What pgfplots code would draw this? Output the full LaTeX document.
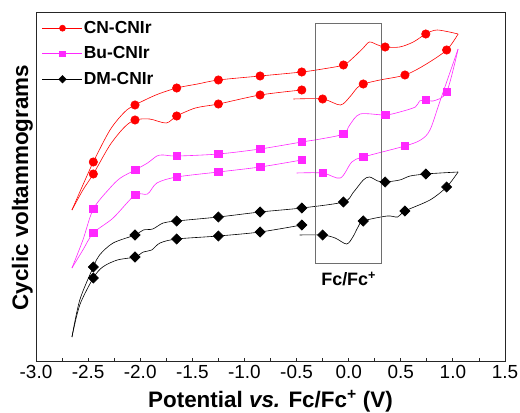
\documentclass[border=0pt]{standalone}
\usepackage{fontspec}
\setmainfont{Liberation Sans}
\usepackage{pgfplots}
\pgfplotsset{compat=1.18}

\definecolor{cnred}{RGB}{255,0,0}
\definecolor{bumag}{RGB}{255,40,255}
\definecolor{boxgray}{RGB}{110,110,110}

\begin{document}
\begin{tikzpicture}
\begin{axis}[
  at={(36bp,51bp)}, anchor=south west,
  scale only axis, width=469bp, height=349bp,
  xmin=-3, xmax=1.5, ymin=0, ymax=349,
  xtick={-3,-2.5,...,1.5}, minor x tick num=1,
  ytick=\empty, xtick pos=lower,
  tick align=inside, major tick length=4bp, minor tick length=3.5bp,
  axis line style={line width=1bp, black!85},
  every tick/.style={black!85, line width=0.8bp},
  /pgf/number format/assume math mode=true,
  xticklabel={\pgfmathprintnumber[fixed, fixed zerofill, precision=1]{\tick}},
  tick label style={font=\fontsize{19}{19}\selectfont},
  xlabel={\bfseries Potential \textit{vs.} Fc/Fc\textsuperscript{+} (V)},
  ylabel={\bfseries Cyclic voltammograms},
  label style={font=\fontsize{22.5}{24}\selectfont},
  xlabel style={at={(axis description cs:0.5,0)}, anchor=base, yshift=-45bp},
  ylabel style={at={(axis description cs:-0.017,0.5)}, anchor=base},
  legend cell align=left,
  legend image code/.code={\draw[mark repeat=2,mark phase=2,#1] plot coordinates {(0bp,0bp) (20bp,0bp) (40bp,0bp)};},
  legend style={draw=none, fill=none, inner sep=0pt,
    at={(axis description cs:0,1)}, anchor=north west, xshift=6bp, yshift=-6bp,
    font=\bfseries\fontsize{17.5}{20}\selectfont,
    nodes={inner sep=1bp, text height=13bp, text depth=3bp},
    row sep=7.5bp},
  every axis plot/.append style={line width=0.6bp},
]
\addlegendimage{cnred, mark=*, mark size=3bp}
\addlegendentry{CN-CNIr}
\addlegendimage{bumag, mark=square*, mark size=2.7bp}
\addlegendentry{Bu-CNIr}
\addlegendimage{black, mark=square*, mark size=2.6bp, mark options={rotate=45}}
\addlegendentry{DM-CNIr}

% CN-CNIr
\addplot[cnred, smooth, tension=0.5, forget plot] coordinates {
(-0.53,263) (-0.25,263) (-0.08,257) (0.01,265) (0.08,274) (0.14,278) (0.30,282) (0.54,287) (0.73,297) (0.94,312) (1.05,328)};
\addplot[cnred, smooth, tension=0.5, forget plot] coordinates {
(1.05,328) (0.85,332) (0.74,328) (0.62,320) (0.49,315) (0.35,315) (0.28,317) (0.20,320) (0.14,314) (0.04,304) (-0.05,297) (-0.25,293) (-0.45,290) (-0.85,286) (-1.25,282) (-1.45,278) (-1.65,274) (-1.85,267) (-2.05,257) (-2.15,250) (-2.29,232) (-2.45,200) (-2.55,177) (-2.655,152)};
\addplot[cnred, smooth, tension=0.5, forget plot] coordinates {
(-2.655,152) (-2.55,172) (-2.45,188) (-2.29,217) (-2.15,235) (-2.05,242) (-1.91,243) (-1.75,239) (-1.65,246) (-1.47,254) (-1.25,258) (-0.85,267) (-0.45,272)};
\addplot[only marks, mark=*, mark size=4.2bp, cnred, forget plot] coordinates {
(-2.45,200) (-2.05,257) (-1.65,274) (-1.25,282) (-0.85,286) (-0.45,290) (-0.05,297) (0.35,315) (0.74,328)
(-2.45,188) (-2.05,242) (-1.65,246) (-1.25,258) (-0.85,267) (-0.45,272) (-0.25,263) (0.14,278) (0.54,287) (0.94,312)};

% Bu-CNIr
\addplot[bumag, smooth, tension=0.5, forget plot] coordinates {
(-0.50,189) (-0.25,189) (-0.08,184) (0.03,200) (0.14,205) (0.54,216) (0.69,222) (0.78,232) (0.88,262) (1.05,313)};
\addplot[bumag, smooth, tension=0.5, forget plot] coordinates {
(1.05,313) (0.94,270) (0.81,261) (0.74,262) (0.68,261) (0.64,255) (0.49,250) (0.35,247) (0.11,248) (0.01,237) (-0.05,228) (-0.27,223) (-0.45,220) (-0.85,213) (-1.25,208) (-1.65,206) (-1.78,207) (-1.84,206) (-1.93,199) (-2.05,192) (-2.19,184) (-2.29,174) (-2.45,153) (-2.55,122) (-2.655,94)};
\addplot[bumag, smooth, tension=0.5, forget plot] coordinates {
(-2.655,94) (-2.55,112) (-2.45,129) (-2.26,144) (-2.05,167) (-1.93,168) (-1.84,179) (-1.65,185) (-1.25,190) (-0.85,195) (-0.45,202)};
\addplot[only marks, mark=square*, mark size=3.8bp, bumag, forget plot] coordinates {
(-2.45,153) (-2.05,192) (-1.65,206) (-1.25,208) (-0.85,213) (-0.45,220) (-0.05,228) (0.35,247) (0.74,262) (0.94,270)
(-2.45,129) (-2.05,167) (-1.65,185) (-1.25,190) (-0.85,195) (-0.45,202) (-0.25,189) (0.14,205) (0.54,216)};

% DM-CNIr
\addplot[black, smooth, tension=0.5, forget plot] coordinates {
(-0.47,127) (-0.25,127) (-0.13,124) (-0.02,118) (0.04,125) (0.09,135) (0.14,141) (0.37,146) (0.47,145) (0.54,151) (0.78,162) (0.94,175) (1.05,190)};
\addplot[black, smooth, tension=0.5, forget plot] coordinates {
(1.05,190) (0.88,189) (0.74,188) (0.59,186) (0.49,182) (0.35,180) (0.28,181) (0.20,185) (0.14,182) (0.04,169) (-0.05,160) (-0.45,154) (-0.85,150) (-1.25,145) (-1.65,141) (-1.78,139) (-1.88,133) (-1.97,132) (-2.05,127) (-2.26,119) (-2.39,107) (-2.45,95) (-2.58,62) (-2.655,25)};
\addplot[black, smooth, tension=0.5, forget plot] coordinates {
(-2.655,25) (-2.58,57) (-2.45,84) (-2.36,95) (-2.22,102) (-2.05,105) (-1.97,110) (-1.89,112) (-1.81,119) (-1.65,123) (-1.25,126) (-0.85,130) (-0.45,137)};
\addplot[only marks, mark=square*, mark size=3.6bp, mark options={rotate=45}, black, forget plot] coordinates {
(-2.45,95) (-2.05,127) (-1.65,141) (-1.25,145) (-0.85,150) (-0.45,154) (-0.05,160) (0.35,180) (0.74,188)
(-2.45,84) (-2.05,105) (-1.65,123) (-1.25,126) (-0.85,130) (-0.45,137) (-0.25,127) (0.14,141) (0.54,151) (0.94,175)};

% Fc/Fc+ box
\addplot[boxgray, line width=0.9bp, sharp plot, forget plot] coordinates {
(-0.322,99) (0.311,99) (0.311,339) (-0.322,339) (-0.322,99)};
\node[anchor=base, font=\bfseries\fontsize{18}{20}\selectfont] at (axis cs:0.0,76) {Fc/Fc\textsuperscript{+}};
\end{axis}
\pgfresetboundingbox
\path[use as bounding box] (0,0) rectangle (520bp,413bp);
\end{tikzpicture}
\end{document}
